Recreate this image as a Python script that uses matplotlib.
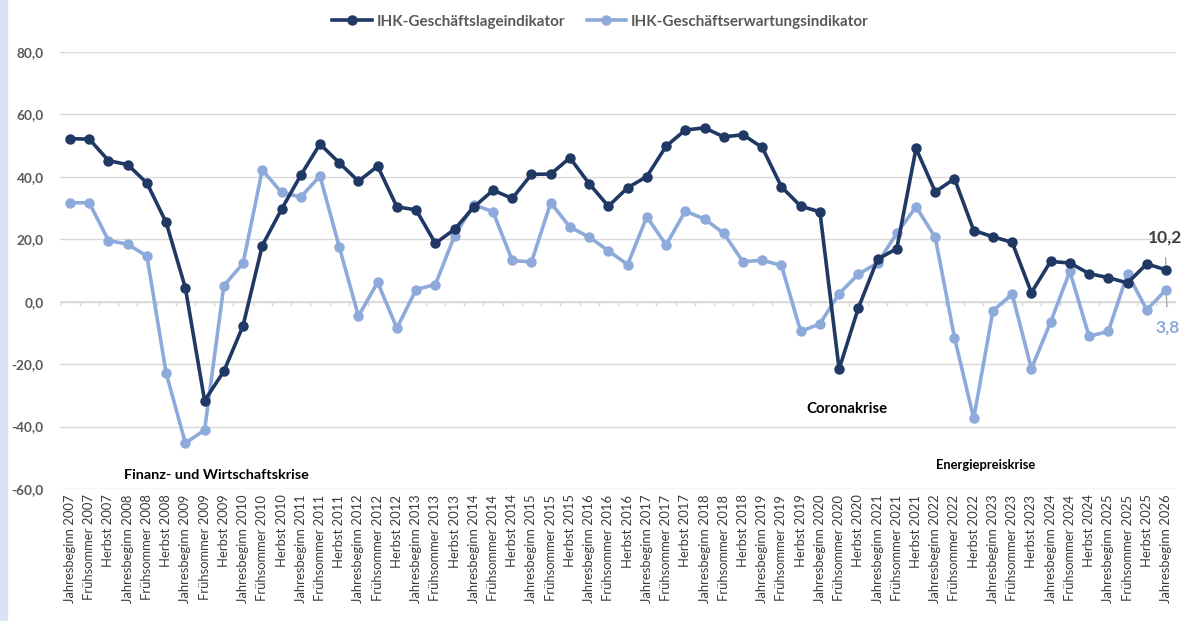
import matplotlib
matplotlib.use("Agg")
import matplotlib.pyplot as plt
from matplotlib.patches import Rectangle

DARK = "#1F3864"
LIGHT = "#8EAADB"
GRID = "#D9D9D9"
TXT = "#595959"

seasons = ["Jahresbeginn", "Frühsommer", "Herbst"]
years = list(range(2007, 2026))
labels = [f"{s} {y}" for y in years for s in seasons] + ["Jahresbeginn 2026"]

lage = [52.2, 52.1, 45.2, 43.9, 38.0, 25.4, 4.4, -31.7, -22.3, -7.7,
        18.0, 29.6, 40.5, 50.5, 44.5, 38.6, 43.4, 30.4, 29.4, 18.7,
        23.2, 30.3, 35.7, 33.1, 40.8, 40.9, 46.1, 37.8, 30.6, 36.5,
        40.1, 49.8, 55.0, 55.7, 52.8, 53.5, 49.4, 36.8, 30.6, 28.8,
        -21.6, -2.0, 13.6, 17.0, 49.1, 35.2, 39.4, 22.8, 20.8, 19.0,
        2.9, 12.9, 12.4, 9.0, 7.7, 6.0, 12.1, 10.2]
erwartung = [31.7, 31.7, 19.6, 18.4, 14.6, -22.9, -45.3, -41.1, 5.1, 12.3,
             42.2, 35.0, 33.5, 40.3, 17.6, -4.6, 6.2, -8.5, 3.9, 5.5,
             21.1, 31.1, 28.8, 13.2, 12.7, 31.7, 23.9, 20.7, 16.3, 11.9,
             27.2, 18.2, 29.0, 26.5, 21.9, 12.8, 13.3, 11.6, -9.5, -7.1,
             2.6, 8.8, 12.4, 21.9, 30.4, 20.6, -11.5, -37.4, -2.9, 2.4,
             -21.5, -6.5, 9.7, -11.1, -9.5, 9.0, -2.6, 3.8]

plt.rcParams["font.family"] = ["Lato", "DejaVu Sans"]

fig = plt.figure(figsize=(11.82, 6.21), dpi=100)
fig.patches.append(Rectangle((0, 0), 0.006, 1, transform=fig.transFigure,
                             color="#DAE3F3", zorder=0))
ax = fig.add_axes([0.0511, 0.2126, 0.9435, 0.7037])

x = list(range(len(labels)))
ax.plot(x, lage, color=DARK, lw=2.6, marker="o", ms=6.5, zorder=4,
        label="IHK-Geschäftslageindikator")
ax.plot(x, erwartung, color=LIGHT, lw=2.6, marker="o", ms=6.5, zorder=3,
        label="IHK-Geschäftserwartungsindikator")

ax.set_xlim(-0.5, len(labels) - 0.5)
ax.set_ylim(-60, 80)
ax.set_yticks(range(-60, 81, 20))
ax.set_yticklabels([f"{v:.1f}".replace(".", ",") for v in range(-60, 81, 20)],
                   fontsize=9.8, fontweight="bold", color=TXT)
ax.grid(axis="y", color=GRID, lw=1)
ax.set_axisbelow(True)
for sp in ax.spines.values():
    sp.set_visible(False)
ax.tick_params(axis="y", length=0, pad=12)
ax.set_xticks(x)
ax.set_xticklabels(labels, rotation=90, fontsize=9.4, color="#3A3A3A")
ax.tick_params(axis="x", length=0, pad=4)

# zero line with category tick marks
ax.axhline(0, color=GRID, lw=1.2, zorder=1)
ax.vlines([i - 0.5 for i in range(len(labels) + 1)], -1.3, 0, color=GRID,
          lw=1, zorder=1)

ax.text(7.6, -55.5, "Finanz- und Wirtschaftskrise", ha="center", va="center",
        fontsize=10.4, fontweight="bold", color="black")
ax.text(40.4, -34.3, "Coronakrise", ha="center", va="center",
        fontsize=10.8, fontweight="bold", color="black")
ax.text(47.6, -52.3, "Energiepreiskrise", ha="center", va="center",
        fontsize=9.3, fontweight="bold", color="black")

last = len(labels) - 1
ax.annotate(f"{lage[-1]:.1f}".replace(".", ","), (last, lage[-1]),
            xytext=(last - 0.05, lage[-1] + 10.5), ha="center", va="center",
            fontsize=12.5, fontweight="bold", color="#404040",
            arrowprops=dict(arrowstyle="-", color="#A6A6A6", lw=1,
                            shrinkA=7, shrinkB=4), annotation_clip=False)
ax.annotate(f"{erwartung[-1]:.1f}".replace(".", ","), (last, erwartung[-1]),
            xytext=(last + 0.1, erwartung[-1] - 12), ha="center", va="center",
            fontsize=12.5, fontweight="bold", color=LIGHT,
            arrowprops=dict(arrowstyle="-", color="#A6A6A6", lw=1,
                            shrinkA=7, shrinkB=4), annotation_clip=False)

leg = fig.legend(loc="center", bbox_to_anchor=(0.508, 0.965), ncol=2,
                 frameon=False, fontsize=11, handlelength=2.6,
                 columnspacing=1.4, handletextpad=0.3)
for t in leg.get_texts():
    t.set_color(TXT)
    t.set_fontweight("bold")

fig.savefig("out.png", dpi=100)
